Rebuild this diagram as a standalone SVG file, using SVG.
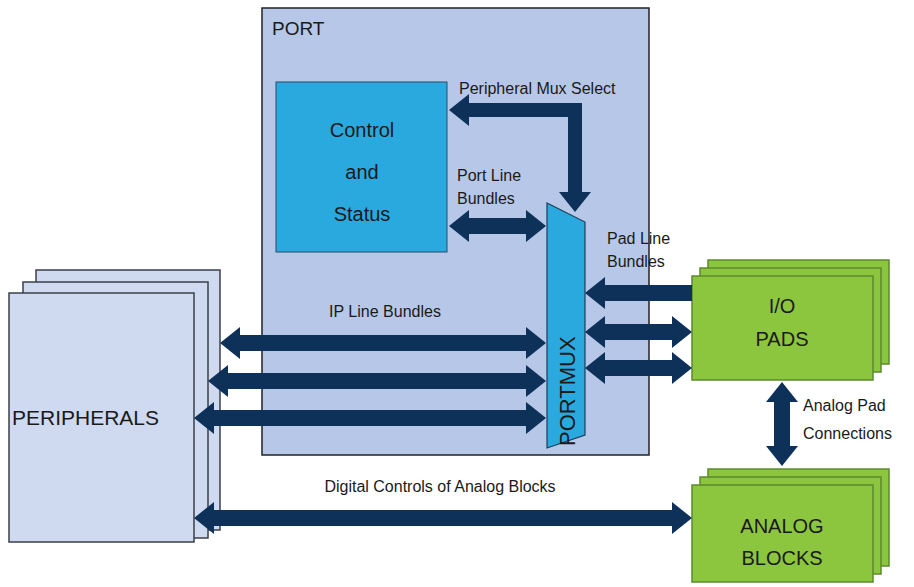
<svg xmlns="http://www.w3.org/2000/svg" width="914" height="587" viewBox="0 0 914 587">
<style>
text{font-family:"Liberation Sans",Arial,sans-serif;fill:#1a1a1a}
.per{fill:#cfd9f0;stroke:#3a3f4a;stroke-width:1.5}
.grn{fill:#8cc63f;stroke:#5b8a2c;stroke-width:1.5}
.arr{fill:#0e3159}
.lbl{font-size:16px}
.big{font-size:20px}
</style>
<rect width="914" height="587" fill="#fff"/>
<g id="peripherals">
<rect class="per" x="36" y="270" width="184" height="260"/>
<rect class="per" x="23" y="282" width="185" height="256"/>
<rect class="per" x="9" y="293" width="185" height="249"/>
<text x="12" y="425" font-size="21">PERIPHERALS</text>
</g>
<g id="port">
<rect x="262" y="8" width="387" height="447" fill="#b7c7e7" stroke="#222" stroke-width="1.5"/>
<text x="272" y="35" font-size="19">PORT</text>
</g>
<g id="control">
<rect x="276" y="82" width="171" height="170" fill="#2aa9de" stroke="#2a4a6a" stroke-width="1"/>
<text class="big" x="362" y="137" text-anchor="middle">Control</text>
<text class="big" x="362" y="179" text-anchor="middle">and</text>
<text class="big" x="362" y="221" text-anchor="middle">Status</text>
</g>
<g id="portmux">
<polygon points="547,203 585,222 585,435 547,448" fill="#2aa9de" stroke="#1d3d5c" stroke-width="1.2"/>
<text transform="translate(575,446) rotate(-90)" x="0" y="0" font-size="22">PORTMUX</text>
</g>
<g id="iopads">
<rect class="grn" x="708" y="260" width="181" height="104"/>
<rect class="grn" x="700" y="268" width="181" height="104"/>
<rect class="grn" x="692" y="276" width="181" height="104"/>
<text class="big" x="782" y="313" text-anchor="middle">I/O</text>
<text class="big" x="782" y="346" text-anchor="middle">PADS</text>
</g>
<g id="analog">
<rect class="grn" x="708" y="469" width="181" height="97"/>
<rect class="grn" x="700" y="477" width="181" height="97"/>
<rect class="grn" x="692" y="485" width="181" height="97"/>
<text class="big" x="782" y="533" text-anchor="middle">ANALOG</text>
<text class="big" x="782" y="565" text-anchor="middle">BLOCKS</text>
</g>
<g id="connectors">
<path class="arr" d="M449 110 L469 94 L469 103 L582 103 L582 192 L591 192 L575 212 L559 192 L568 192 L568 117 L469 117 L469 126 Z"/>
<path class="arr" d="M449 226 L469 210 L469 218 L526 218 L526 210 L546 226 L526 242 L526 234 L469 234 L469 242 Z"/>
<path class="arr" d="M220 343 L240 327 L240 335 L526 335 L526 327 L546 343 L526 359 L526 351 L240 351 L240 359 Z"/>
<path class="arr" d="M208 381 L228 365 L228 373 L526 373 L526 365 L546 381 L526 397 L526 389 L228 389 L228 397 Z"/>
<path class="arr" d="M194 418 L214 402 L214 410 L526 410 L526 402 L546 418 L526 434 L526 426 L214 426 L214 434 Z"/>
<path class="arr" d="M194 518 L214 502 L214 510 L672 510 L672 502 L692 518 L672 534 L672 526 L214 526 L214 534 Z"/>
<path class="arr" d="M585 293 L605 277 L605 285 L692 285 L692 301 L605 301 L605 309 Z"/>
<path class="arr" d="M585 332 L605 316 L605 324 L672 324 L672 316 L692 332 L672 348 L672 340 L605 340 L605 348 Z"/>
<path class="arr" d="M585 368 L605 352 L605 360 L672 360 L672 352 L692 368 L672 384 L672 376 L605 376 L605 384 Z"/>
<path class="arr" d="M782 382 L798 402 L790 402 L790 446 L798 446 L782 466 L766 446 L774 446 L774 402 L766 402 Z"/>
<text class="lbl" x="459" y="94">Peripheral Mux Select</text>
<text class="lbl" x="457" y="181">Port Line</text>
<text class="lbl" x="457" y="204">Bundles</text>
<text class="lbl" x="607" y="244">Pad Line</text>
<text class="lbl" x="607" y="267">Bundles</text>
<text class="lbl" x="385" y="317" text-anchor="middle">IP Line Bundles</text>
<text class="lbl" x="440" y="492" text-anchor="middle">Digital Controls of Analog Blocks</text>
<text class="lbl" x="803" y="411">Analog Pad</text>
<text class="lbl" x="803" y="439">Connections</text>
</g>
</svg>
